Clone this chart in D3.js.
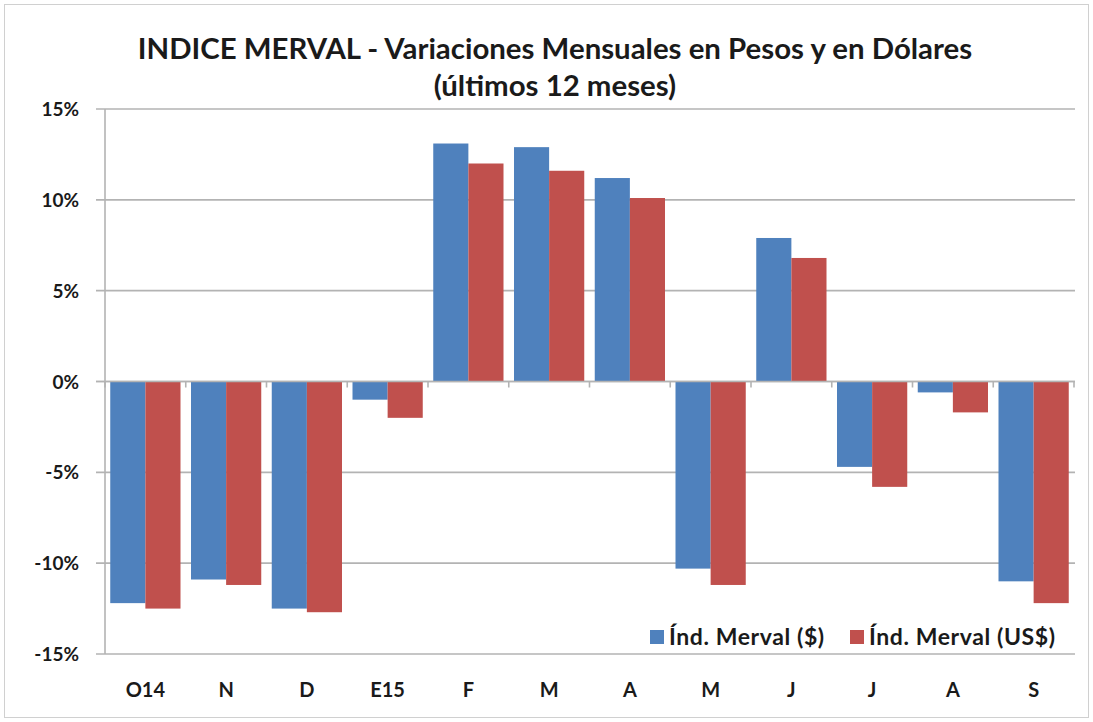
<!DOCTYPE html>
<html lang="es">
<head>
<meta charset="UTF-8">
<title>Indice Merval - Variaciones Mensuales</title>
<script src="https://d3js.org/d3.v7.min.js"></script>
<style>
  body { margin: 0; background: #fff; }
  svg { font-family: Lato, "Open Sans", sans-serif; }
</style>
</head>
<body>
<div id="chart"></div>
<script>
// data (%)
const months = ["O14", "N", "D", "E15", "F", "M", "A", "M", "J", "J", "A", "S"];
const pesos = [-12.2, -10.9, -12.5, -1.0, 13.1, 12.9, 11.2, -10.3, 7.9, -4.7, -0.6, -11.0];
const dolares = [-12.5, -11.2, -12.7, -2.0, 12.0, 11.6, 10.1, -11.2, 6.8, -5.8, -1.7, -12.2];
const seriesNames = ["Índ. Merval ($)", "Índ. Merval (US$)"];
const colors = ["#4f81bd", "#c0504d"];
const yTicks = [-15, -10, -5, 0, 5, 10, 15];

const W = 1093, H = 722;
const m = { left: 105, right: 1074, top: 109, bottom: 654 };

const svg = d3.select("#chart").append("svg")
    .attr("width", W).attr("height", H);

// outer frame
svg.append("rect")
    .attr("x", 4.5).attr("y", 4.5)
    .attr("width", W - 9).attr("height", H - 9)
    .attr("fill", "#fff").attr("stroke", "#d0d0d0");

// title
const title = svg.append("text")
    .attr("text-anchor", "middle")
    .attr("font-weight", "bold")
    .attr("font-size", 29.4)
    .attr("fill", "#1a1a1a");
title.append("tspan").attr("x", 555).attr("y", 59)
    .text("INDICE MERVAL - Variaciones Mensuales en Pesos y en Dólares");
title.append("tspan").attr("x", 555).attr("y", 96)
    .text("(últimos 12 meses)");

const x0 = d3.scaleBand().domain(d3.range(months.length))
    .range([m.left, m.right]).padding(0);
const gap = x0.bandwidth() * 0.065;
const x1 = d3.scaleBand().domain([0, 1])
    .range([gap, x0.bandwidth() - gap]).padding(0);
const y = d3.scaleLinear().domain([-15, 15]).range([m.bottom, m.top]);

// gridlines
svg.append("g")
    .selectAll("line")
    .data(yTicks)
    .join("line")
    .attr("x1", m.left - 9).attr("x2", m.right + 1)
    .attr("y1", d => y(d)).attr("y2", d => y(d))
    .attr("stroke", "#b3b3b3").attr("stroke-width", 1.6);

// y axis line
svg.append("line")
    .attr("x1", m.left).attr("x2", m.left)
    .attr("y1", m.top).attr("y2", m.bottom)
    .attr("stroke", "#b3b3b3").attr("stroke-width", 1.6);

// y labels
svg.append("g")
    .selectAll("text")
    .data(yTicks)
    .join("text")
    .attr("x", 79).attr("y", d => y(d) + 7)
    .attr("text-anchor", "end")
    .attr("font-size", 19).attr("font-weight", "bold")
    .attr("fill", "#1a1a1a")
    .text(d => d + "%");

// bars
const rows = months.map((mo, i) => ({ i, vals: [pesos[i], dolares[i]] }));
const groups = svg.append("g")
    .selectAll("g")
    .data(rows)
    .join("g")
    .attr("transform", d => `translate(${x0(d.i)},0)`);

groups.selectAll("rect")
    .data(d => d.vals.map((v, k) => ({ v, k })))
    .join("rect")
    .attr("x", d => x1(d.k))
    .attr("width", x1.bandwidth())
    .attr("y", d => y(Math.max(0, d.v)))
    .attr("height", d => Math.abs(y(d.v) - y(0)))
    .attr("fill", d => colors[d.k]);

// zero axis redrawn on top, with category ticks
svg.append("line")
    .attr("x1", m.left - 9).attr("x2", m.right + 1)
    .attr("y1", y(0)).attr("y2", y(0))
    .attr("stroke", "#b3b3b3").attr("stroke-width", 1.6);
svg.append("g")
    .selectAll("line")
    .data(d3.range(months.length + 1))
    .join("line")
    .attr("x1", d => m.left + d * x0.step()).attr("x2", d => m.left + d * x0.step())
    .attr("y1", y(0)).attr("y2", y(0) + 6)
    .attr("stroke", "#b3b3b3").attr("stroke-width", 1.6);

// category labels
svg.append("g")
    .selectAll("text")
    .data(months)
    .join("text")
    .attr("x", (d, i) => x0(i) + x0.bandwidth() / 2)
    .attr("y", 697)
    .attr("text-anchor", "middle")
    .attr("font-size", 20).attr("font-weight", "bold")
    .attr("fill", "#1a1a1a")
    .text(d => d);

// legend
const legX = [650, 850];
const leg = svg.append("g")
    .selectAll("g")
    .data(seriesNames)
    .join("g")
    .attr("transform", (d, i) => `translate(${legX[i]},630)`);
leg.append("rect")
    .attr("width", 14).attr("height", 14)
    .attr("fill", (d, i) => colors[i]);
leg.append("text")
    .attr("x", 19).attr("y", 15)
    .attr("font-size", 23).attr("font-weight", "bold")
    .attr("letter-spacing", 0.6)
    .attr("fill", "#1a1a1a")
    .text(d => d);
</script>
</body>
</html>
